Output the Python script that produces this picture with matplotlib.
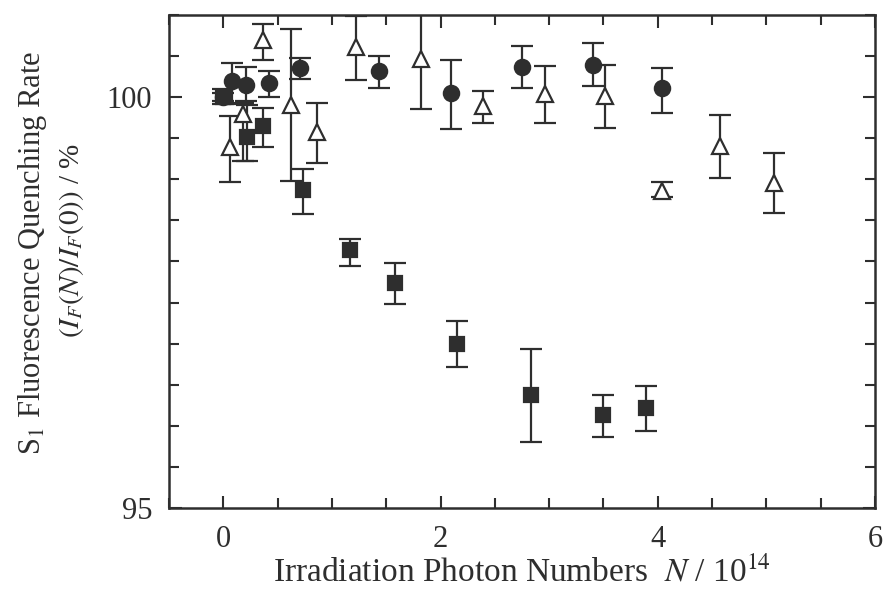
#!/usr/bin/env python3
"""S1 fluorescence quenching rate vs irradiation photon number."""
import numpy as np
import matplotlib
matplotlib.use("Agg")
import matplotlib.pyplot as plt
from matplotlib.ticker import MultipleLocator

plt.rcParams.update({
    "font.family": ["Liberation Serif", "DejaVu Serif"],
    "mathtext.fontset": "stix",
    "font.size": 20,
})

# filled circles
circ_x = [0.0, 0.08, 0.21, 0.42, 0.705, 1.43, 2.10, 2.75, 3.40, 4.04]
circ_y = [100.0, 100.2, 100.15, 100.17, 100.35, 100.32, 100.05, 100.37, 100.39, 100.11]
circ_lo = [99.92, 99.92, 99.95, 100.0, 100.22, 100.11, 99.61, 100.11, 100.14, 99.81]
circ_hi = [100.1, 100.41, 100.37, 100.32, 100.48, 100.5, 100.45, 100.62, 100.66, 100.35]

# open triangles
tri_x = [0.06, 0.18, 0.37, 0.62, 0.86, 1.22, 1.82, 2.39, 2.96, 3.51, 4.04, 4.57, 5.07]
tri_y = [99.39, 99.79, 100.69, 99.9, 99.57, 100.61, 100.46, 99.89, 100.04, 100.02, 98.86, 99.41, 98.96]
tri_lo = [98.97, 99.22, 100.45, 98.98, 99.2, 100.21, 99.85, 99.69, 99.69, 99.63, 98.78, 99.02, 98.59]
tri_hi = [99.77, 99.93, 100.89, 100.83, 99.93, 100.99, 101.3, 100.08, 100.38, 100.39, 98.97, 99.78, 99.32]

# filled squares
sq_x = [0.0, 0.215, 0.37, 0.73, 1.165, 1.58, 2.15, 2.83, 3.50, 3.89]
sq_y = [100.0, 99.52, 99.65, 98.87, 98.14, 97.74, 97.0, 96.38, 96.13, 96.22]
sq_lo = [99.95, 99.22, 99.39, 98.58, 97.95, 97.48, 96.72, 95.8, 95.86, 95.94]
sq_hi = [100.05, 99.9, 99.87, 99.13, 98.27, 97.98, 97.28, 96.94, 96.37, 96.49]

ink = "#2e2e2e"


def draw(ax, x, y, lo, hi, marker, face, size):
    y = np.asarray(y)
    yerr = np.vstack([y - np.asarray(lo), np.asarray(hi) - y])
    ax.errorbar(x, y, yerr=yerr, fmt=marker, ms=size, mfc=face, mec=ink,
                mew=1.6, ecolor=ink, elinewidth=1.6, capsize=8, capthick=1.6)


fig = plt.figure(figsize=(8.86, 5.92), dpi=100)
ax = fig.add_axes([0.1907, 0.1419, 0.7969, 0.8328])

draw(ax, tri_x, tri_y, tri_lo, tri_hi, "^", "white", 12)
draw(ax, sq_x, sq_y, sq_lo, sq_hi, "s", ink, 10)
draw(ax, circ_x, circ_y, circ_lo, circ_hi, "o", ink, 11)

ax.set_xlim(-0.5, 6)
ax.set_ylim(95, 101)
ax.xaxis.set_major_locator(MultipleLocator(2))
ax.xaxis.set_minor_locator(MultipleLocator(0.5))
ax.yaxis.set_major_locator(MultipleLocator(5))
ax.yaxis.set_minor_locator(MultipleLocator(0.5))
ax.tick_params(which="both", direction="in", top=True, right=True,
               width=1.5, colors=ink, labelsize=22, pad=12)
ax.tick_params(which="major", length=9)
ax.tick_params(which="minor", length=7)
for sp in ax.spines.values():
    sp.set_linewidth(1.8)
    sp.set_color(ink)

ax.set_xlabel(r"Irradiation Photon Numbers  $N$ / 10$^{14}$", fontsize=24,
              color=ink, labelpad=2)
fig.text(33 / 886, 1 - 253 / 592, "S$_1$ Fluorescence Quenching Rate",
         rotation=90, ha="center", va="center", fontsize=22, color=ink)
fig.text(72 / 886, 1 - 240 / 592, r"$(I_F(N)/I_F(0))$ / %",
         rotation=90, ha="center", va="center", fontsize=21, color=ink)

fig.savefig("out.png", dpi=100)
